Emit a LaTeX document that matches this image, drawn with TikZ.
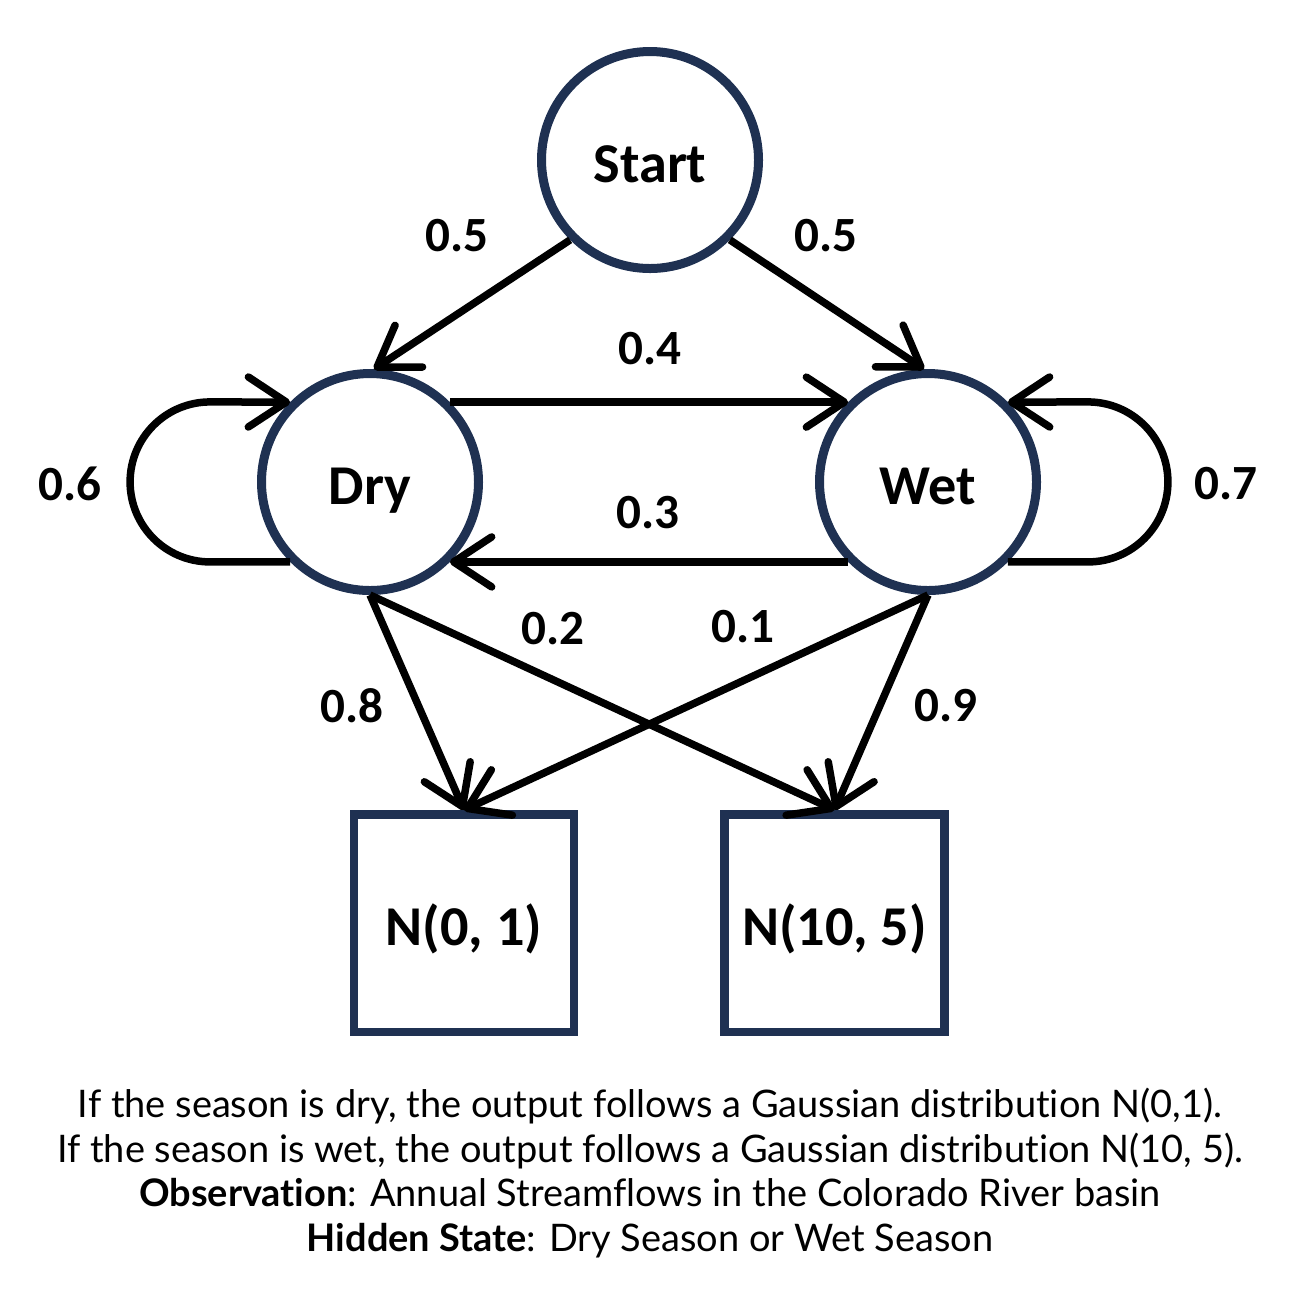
\documentclass[tikz,border=0pt]{standalone}
\usepackage{fontspec}
\setmainfont{Carlito}
\newfontfamily\capfont[Ligatures=NoCommon]{Lato}
\usepackage{tikz}
\usetikzlibrary{arrows.meta}
\definecolor{statecol}{HTML}{1F3152}

\begin{document}
\begin{tikzpicture}[
    state/.style={circle,draw=statecol,line width=0.9mm,minimum size=2.17cm,inner sep=0pt,text height=0.6cm,text depth=0.16cm,font=\fontsize{16}{19}\selectfont\bfseries},
    emit/.style={rectangle,draw=statecol,line width=0.85mm,minimum width=2.2cm,minimum height=2.175cm,inner sep=0pt,text height=0.6cm,text depth=0.16cm,font=\fontsize{16}{19}\selectfont\bfseries},
    prob/.style={font=\fontsize{14}{17}\selectfont\bfseries},
    trans/.style={->,line width=0.75mm,>={Straight Barb[length=3.8mm,width=5mm,round]}}
  ]
  \useasboundingbox (0,0) rectangle (13,-12.98);
  % states
  \node[state] (start) at (6.5,-1.6) {Start};
  \node[state] (dry) at (3.7,-4.82) {Dry};
  \node[state] (wet) at (9.28,-4.82) {Wet};
  % emissions
  \node[emit] (n01) at (4.64,-9.23) {N(0, 1)};
  \node[emit] (n105) at (8.345,-9.23) {N(10, 5)};
  % transitions
  \path[trans]
  (start.-135) edge (dry.88)
  (start.-45) edge (wet.92)
  (dry.45) edge (wet.135)
  (wet.-135) edge (dry.-45)
  (dry.south) edge (n01.north)
  (dry.south) edge (n105.north)
  (wet.south) edge (n01.north)
  (wet.south) edge (n105.north)
  ;
  \draw[trans] (dry.-135) -- ++(-0.8,0) arc[start angle=270,end angle=90,radius=0.8] -- (dry.135);
  \draw[trans] (wet.-45) -- ++(0.8,0) arc[start angle=-90,end angle=90,radius=0.8] -- (wet.45);
  % probabilities
  \node[prob] (pstartdry) at (4.57,-2.36) {0.5};
  \node[prob] (pstartwet) at (8.26,-2.36) {0.5};
  \node[prob] (pdrywet) at (6.5,-3.49) {0.4};
  \node[prob] (pwetdry) at (6.48,-5.13) {0.3};
  \node[prob] (pdrydry) at (0.70,-4.84) {0.6};
  \node[prob] (pwetwet) at (12.26,-4.84) {0.7};
  \node[prob] (pdryhi) at (5.53,-6.29) {0.2};
  \node[prob] (pwetlo) at (7.43,-6.27) {0.1};
  \node[prob] (pdrylo) at (3.52,-7.06) {0.8};
  \node[prob] (pwethi) at (9.46,-7.06) {0.9};
  % caption
  \node[align=center,font=\capfont\fontsize{10.8}{12.8}\selectfont] (caption) at (6.5,-11.73)
    {If the season is dry, the output follows a Gaussian distribution N(0,1).\\
     If the season is wet, the output follows a Gaussian distribution N(10, 5).\\
     \textbf{Observation}: Annual Streamflows in the Colorado River basin\\
     \textbf{Hidden State}: Dry Season or Wet Season};
\end{tikzpicture}
\end{document}
